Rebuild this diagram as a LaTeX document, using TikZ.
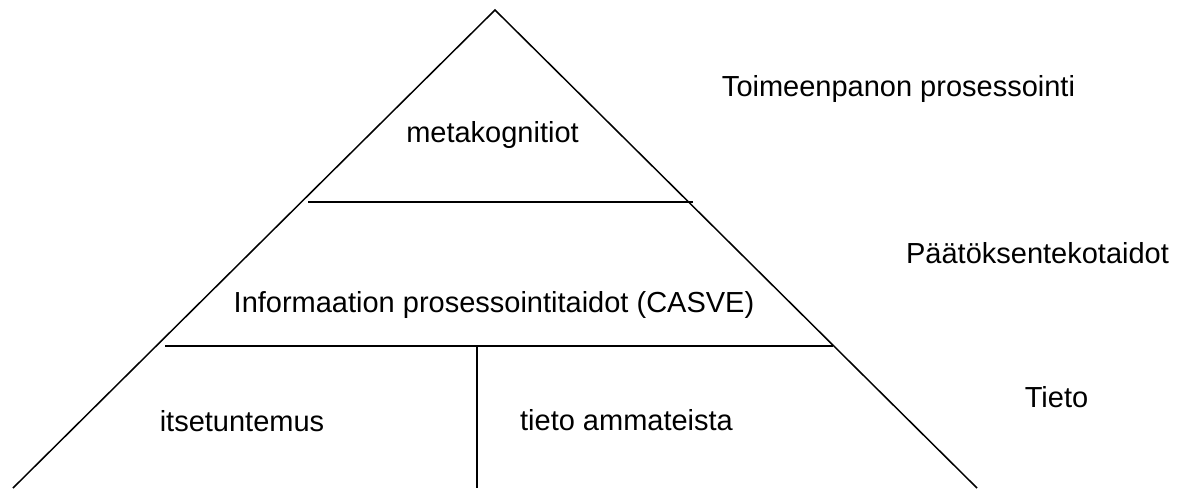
\documentclass[tikz,border=0pt]{standalone}
\usepackage{fontspec}
\setmainfont{Liberation Sans}
\begin{document}
\begin{tikzpicture}[x=1pt,y=-1pt,
  lbl/.style={anchor=base,inner sep=0pt,font=\fontsize{29}{34}\selectfont},
  edge/.style={draw=black,line width=1.5pt}]
\useasboundingbox (0,0) rectangle (1189,488);
\coordinate (apex) at (495,10);
\coordinate (bl) at (13,488);
\coordinate (br) at (977,488);
\coordinate (h1l) at (308,202);
\coordinate (h1r) at (693,202);
\coordinate (h2l) at (165,346);
\coordinate (h2r) at (833,346);
\coordinate (vt) at (477,346);
\coordinate (vb) at (477,488);
\draw[edge] (bl) -- (apex) -- (br);
\draw[edge] (h1l) -- (h1r);
\draw[edge] (h2l) -- (h2r);
\draw[edge] (vt) -- (vb);
\node[lbl] (meta) at (492.5,142) {metakognitiot};
\node[lbl] (info) at (494,312) {Informaation prosessointitaidot (CASVE)};
\node[lbl] (itse) at (242,431) {itsetuntemus};
\node[lbl] (amm) at (626.5,430) {tieto ammateista};
\node[lbl] (toim) at (898.5,96) {Toimeenpanon prosessointi};
\node[lbl] (paat) at (1037.5,263) {Päätöksentekotaidot};
\node[lbl] (tieto) at (1056.5,407) {Tieto};
\end{tikzpicture}
\end{document}
